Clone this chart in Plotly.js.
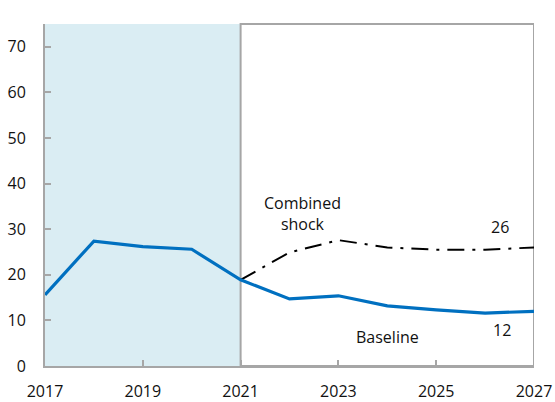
<!DOCTYPE html>
<html>
<head>
<meta charset="utf-8">
<script src="https://cdn.plot.ly/plotly-3.0.1.min.js"></script>
<style>
  html, body { margin: 0; padding: 0; background: #fff; }
  #chart { width: 555px; height: 402px; }
</style>
</head>
<body>
<div id="chart"></div>
<script>
// Years on the horizontal axis
const years = [2017, 2018, 2019, 2020, 2021, 2022, 2023, 2024, 2025, 2026, 2027];
// Baseline path (percent)
const baseline = [15.6, 27.4, 26.2, 25.6, 18.9, 14.7, 15.4, 13.2, 12.3, 11.6, 12];
// Combined shock scenario, starting from the 2021 value
const shockYears = [2021, 2022, 2023, 2024, 2025, 2026, 2027];
const shock = [18.9, 24.9, 27.6, 26.0, 25.5, 25.5, 26];
// Axis ticks
const xTicks = [2017, 2019, 2021, 2023, 2025, 2027];
const yTicks = [0, 10, 20, 30, 40, 50, 60, 70];

const FONT = "Open Sans, Noto Sans, sans-serif";
const GRID = "#a6a6a6";
const BLUE = "#0070c0";
const INK = "#111111";

const traces = [
  {
    x: shockYears, y: shock, type: "scatter", mode: "lines",
    line: { color: "#000000", width: 2, dash: "17px,8px,3px,8px" },
    hoverinfo: "skip", showlegend: false
  },
  {
    x: years, y: baseline, type: "scatter", mode: "lines",
    line: { color: BLUE, width: 3.2 },
    hoverinfo: "skip", showlegend: false
  }
];

const layout = {
  width: 555, height: 402,
  margin: { l: 45, r: 21, t: 24, b: 36 },
  paper_bgcolor: "#ffffff", plot_bgcolor: "rgba(0,0,0,0)",
  font: { family: FONT, size: 16, color: INK },
  showlegend: false,
  xaxis: {
    range: [2017, 2027], tickvals: xTicks, ticktext: xTicks.map(String),
    ticks: "inside", ticklen: 6, tickwidth: 2, tickcolor: GRID,
    showline: true, linecolor: GRID, linewidth: 2,
    showgrid: false, zeroline: false, ticklabelstandoff: 10,
    tickfont: { family: FONT, size: 16, color: INK }
  },
  yaxis: {
    range: [0, 75], tickvals: yTicks,
    ticks: "inside", ticklen: 6, tickwidth: 2, tickcolor: GRID,
    showline: true, linecolor: GRID, linewidth: 2,
    showgrid: false, zeroline: false, ticklabelstandoff: 14,
    tickfont: { family: FONT, size: 16, color: INK }
  },
  shapes: [
    // historical period shading
    { type: "rect", xref: "x", yref: "paper", x0: 2017, x1: 2021, y0: 0, y1: 1,
      fillcolor: "#daedf3", line: { width: 0 }, layer: "below" },
    // projection period frame
    { type: "rect", xref: "x", yref: "paper", x0: 2021, x1: 2027, y0: 0, y1: 1,
      fillcolor: "rgba(0,0,0,0)", line: { color: GRID, width: 2 }, layer: "below" }
  ],
  annotations: [
    { x: 2022.27, y: 33.5, xref: "x", yref: "y", text: "Combined<br>shock",
      showarrow: false, align: "center", font: { family: FONT, size: 16, color: INK } },
    { x: 2026.3, y: 30.5, xref: "x", yref: "y", text: "26",
      showarrow: false, font: { family: FONT, size: 16, color: INK } },
    { x: 2024.0, y: 6.3, xref: "x", yref: "y", text: "Baseline",
      showarrow: false, font: { family: FONT, size: 16, color: INK } },
    { x: 2026.35, y: 7.8, xref: "x", yref: "y", text: "12",
      showarrow: false, font: { family: FONT, size: 16, color: INK } }
  ]
};

Plotly.newPlot("chart", traces, layout, { staticPlot: true, displayModeBar: false });
</script>
</body>
</html>
